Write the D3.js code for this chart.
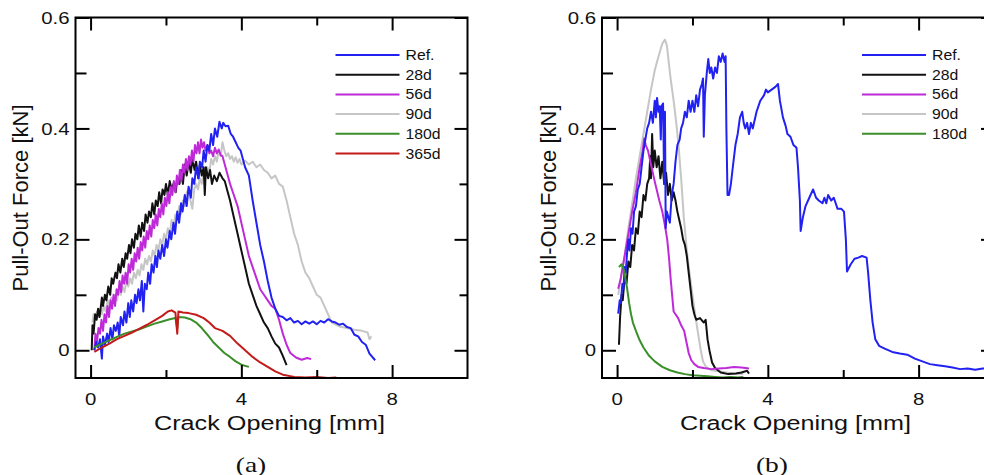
<!DOCTYPE html>
<html><head><meta charset="utf-8">
<script src="https://cdn.jsdelivr.net/npm/d3@7"></script>
<style>body{margin:0;background:#fff}svg{display:block}</style>
</head><body>
<svg id="c" width="984" height="475"></svg>
<script>
// ---------- DATA ----------
const seriesNamesA = ["Ref.","28d","56d","90d","180d","365d"];
const seriesNamesB = ["Ref.","28d","56d","90d","180d"];
const seriesColors = {"Ref.":"#2121f2","28d":"#111111","56d":"#bf2ad8","90d":"#c6c6c6","180d":"#3b8f2b","365d":"#c41a1a"};
const xMajorTicks = [0,4,8];
const xMinorTicks = [2,6];
const yMajorTicks = [0,0.2,0.4,0.6];
const yMinorTicks = [0.1,0.3,0.5];
const yTickLabels = ["0","0.2","0.4","0.6"];
const xTickLabels = ["0","4","8"];
const xTitle = "Crack Opening [mm]";
const yTitle = "Pull-Out Force [kN]";
const panelLabels = ["(a)","(b)"];

// Panel (a)
const refA = [[0.1,0],[0.15,0.015],[0.2,0.005],[0.25,0.02],[0.3,-0.015],[0.33,0.025],[0.38,0.01],[0.44,0.03],[0.48,0.015],[0.53,0.04],[0.58,0.02],[0.62,0.045],[0.67,0.035],[0.72,0.05],[0.76,0.025],[0.8,0.06],[0.86,0.045],[0.9,0.07],[0.95,0.05],[1.0,0.085],[1.04,0.06],[1.08,0.09],[1.13,0.07],[1.18,0.1],[1.22,0.085],[1.27,0.11],[1.31,0.09],[1.36,0.125],[1.4,0.07],[1.44,0.12],[1.49,0.11],[1.53,0.14],[1.58,0.12],[1.62,0.155],[1.67,0.14],[1.72,0.17],[1.76,0.15],[1.8,0.18],[1.85,0.165],[1.9,0.19],[1.95,0.17],[2.0,0.2],[2.04,0.185],[2.1,0.215],[2.14,0.2],[2.2,0.23],[2.24,0.21],[2.3,0.25],[2.35,0.23],[2.4,0.265],[2.44,0.25],[2.5,0.28],[2.55,0.26],[2.6,0.295],[2.66,0.275],[2.7,0.31],[2.75,0.3],[2.8,0.33],[2.86,0.31],[2.9,0.34],[2.96,0.33],[3.0,0.36],[3.05,0.34],[3.1,0.37],[3.15,0.36],[3.2,0.39],[3.25,0.37],[3.3,0.4],[3.36,0.385],[3.42,0.412],[3.48,0.4],[3.52,0.41],[3.58,0.404],[3.65,0.405],[3.72,0.39],[3.78,0.385],[3.85,0.375],[3.92,0.365],[3.98,0.36],[4.04,0.345],[4.1,0.33],[4.2,0.315],[4.3,0.27],[4.4,0.23],[4.5,0.19],[4.6,0.16],[4.7,0.125],[4.8,0.095],[4.9,0.075],[5.0,0.062],[5.1,0.06],[5.2,0.054],[5.3,0.058],[5.4,0.05],[5.5,0.053],[5.6,0.047],[5.7,0.052],[5.8,0.048],[5.9,0.052],[6.0,0.047],[6.1,0.053],[6.2,0.05],[6.3,0.056],[6.4,0.052],[6.5,0.05],[6.6,0.046],[6.7,0.048],[6.8,0.042],[6.9,0.04],[7.0,0.028],[7.1,0.025],[7.2,0.015],[7.3,0.01],[7.4,-0.006],[7.55,-0.018]];
const d28A = [[0.03,0.0],[0.05,0.045],[0.08,0.03],[0.12,0.065],[0.16,0.055],[0.2,0.075],[0.24,0.06],[0.3,0.095],[0.33,0.08],[0.38,0.1],[0.42,0.09],[0.47,0.115],[0.52,0.1],[0.56,0.13],[0.6,0.12],[0.66,0.14],[0.7,0.13],[0.74,0.155],[0.79,0.14],[0.84,0.165],[0.88,0.15],[0.93,0.175],[0.97,0.165],[1.02,0.19],[1.06,0.175],[1.1,0.2],[1.15,0.185],[1.19,0.21],[1.24,0.2],[1.28,0.225],[1.33,0.205],[1.37,0.23],[1.42,0.215],[1.46,0.245],[1.51,0.23],[1.55,0.25],[1.6,0.24],[1.64,0.265],[1.69,0.245],[1.73,0.27],[1.78,0.26],[1.82,0.285],[1.87,0.265],[1.91,0.29],[1.96,0.28],[2.0,0.3],[2.05,0.28],[2.1,0.305],[2.15,0.29],[2.2,0.3],[2.26,0.285],[2.3,0.31],[2.36,0.3],[2.4,0.325],[2.45,0.3],[2.5,0.335],[2.55,0.315],[2.6,0.34],[2.66,0.32],[2.7,0.345],[2.76,0.325],[2.8,0.34],[2.86,0.31],[2.9,0.335],[2.95,0.315],[3.0,0.33],[3.03,0.28],[3.06,0.33],[3.12,0.31],[3.17,0.325],[3.22,0.3],[3.28,0.315],[3.35,0.305],[3.42,0.32],[3.5,0.31],[3.56,0.305],[3.62,0.29],[3.7,0.27],[3.8,0.24],[3.9,0.21],[4.0,0.18],[4.1,0.15],[4.2,0.12],[4.3,0.1],[4.4,0.08],[4.5,0.065],[4.6,0.05],[4.7,0.04],[4.8,0.025],[4.9,0.012],[5.0,0.005],[5.1,-0.01],[5.2,-0.027]];
const d56A = [[0.1,0.0],[0.13,0.03],[0.17,0.015],[0.21,0.04],[0.25,0.03],[0.29,0.055],[0.33,0.035],[0.37,0.065],[0.41,0.05],[0.45,0.08],[0.49,0.06],[0.53,0.09],[0.57,0.075],[0.61,0.1],[0.65,0.08],[0.69,0.11],[0.73,0.1],[0.77,0.125],[0.81,0.105],[0.85,0.135],[0.89,0.12],[0.93,0.14],[0.97,0.12],[1.01,0.155],[1.05,0.14],[1.09,0.165],[1.13,0.145],[1.17,0.175],[1.21,0.16],[1.25,0.185],[1.29,0.165],[1.33,0.195],[1.37,0.18],[1.41,0.205],[1.45,0.185],[1.49,0.215],[1.53,0.2],[1.57,0.225],[1.61,0.205],[1.65,0.235],[1.69,0.22],[1.73,0.245],[1.77,0.225],[1.81,0.255],[1.85,0.24],[1.89,0.265],[1.93,0.245],[1.97,0.275],[2.01,0.26],[2.05,0.285],[2.09,0.265],[2.13,0.295],[2.17,0.28],[2.21,0.305],[2.25,0.285],[2.29,0.315],[2.33,0.3],[2.37,0.325],[2.41,0.305],[2.45,0.335],[2.49,0.32],[2.53,0.345],[2.57,0.325],[2.61,0.35],[2.65,0.335],[2.69,0.36],[2.73,0.34],[2.77,0.37],[2.81,0.355],[2.85,0.375],[2.89,0.355],[2.93,0.38],[2.97,0.365],[3.01,0.375],[3.05,0.36],[3.1,0.37],[3.15,0.355],[3.2,0.36],[3.25,0.35],[3.3,0.365],[3.35,0.355],[3.4,0.362],[3.45,0.352],[3.5,0.35],[3.56,0.335],[3.62,0.32],[3.7,0.3],[3.8,0.28],[3.9,0.26],[4.0,0.23],[4.1,0.2],[4.2,0.17],[4.3,0.15],[4.4,0.13],[4.5,0.11],[4.6,0.1],[4.7,0.09],[4.8,0.08],[4.9,0.075],[5.0,0.055],[5.1,0.03],[5.2,0.01],[5.3,-0.005],[5.45,-0.013],[5.6,-0.017],[5.75,-0.014],[5.85,-0.016]];
const d90A = [[0.05,0.05],[0.08,0.065],[0.12,0.055],[0.17,0.07],[0.21,0.06],[0.26,0.075],[0.3,0.065],[0.35,0.08],[0.4,0.07],[0.45,0.09],[0.5,0.08],[0.55,0.095],[0.6,0.085],[0.65,0.1],[0.7,0.09],[0.75,0.11],[0.8,0.1],[0.85,0.115],[0.9,0.105],[0.95,0.125],[1.0,0.115],[1.05,0.13],[1.1,0.12],[1.15,0.14],[1.2,0.13],[1.25,0.145],[1.3,0.135],[1.35,0.155],[1.4,0.145],[1.45,0.165],[1.5,0.155],[1.55,0.17],[1.6,0.16],[1.65,0.18],[1.7,0.17],[1.75,0.19],[1.8,0.18],[1.85,0.2],[1.9,0.19],[1.95,0.21],[2.0,0.2],[2.05,0.22],[2.1,0.21],[2.15,0.235],[2.2,0.22],[2.25,0.245],[2.3,0.235],[2.35,0.26],[2.4,0.245],[2.45,0.27],[2.5,0.26],[2.55,0.285],[2.6,0.29],[2.65,0.27],[2.7,0.255],[2.75,0.29],[2.8,0.3],[2.85,0.29],[2.9,0.31],[2.95,0.3],[3.0,0.32],[3.05,0.31],[3.1,0.33],[3.15,0.32],[3.2,0.345],[3.25,0.335],[3.3,0.35],[3.35,0.34],[3.4,0.36],[3.45,0.35],[3.5,0.375],[3.55,0.36],[3.6,0.35],[3.65,0.355],[3.7,0.345],[3.75,0.35],[3.8,0.34],[3.85,0.348],[3.9,0.338],[3.95,0.345],[4.0,0.335],[4.1,0.342],[4.2,0.335],[4.3,0.34],[4.4,0.33],[4.5,0.335],[4.6,0.325],[4.7,0.32],[4.8,0.31],[4.9,0.315],[5.0,0.3],[5.1,0.295],[5.2,0.27],[5.3,0.24],[5.4,0.21],[5.5,0.19],[5.6,0.16],[5.7,0.14],[5.8,0.13],[5.9,0.115],[6.0,0.1],[6.1,0.095],[6.2,0.08],[6.3,0.065],[6.4,0.05],[6.6,0.043],[6.8,0.04],[7.0,0.037],[7.2,0.035],[7.35,0.032],[7.4,0.02],[7.45,0.025]];
const d180A = [[0.1,0.005],[0.3,0.012],[0.5,0.018],[0.7,0.024],[0.9,0.03],[1.1,0.034],[1.3,0.038],[1.5,0.043],[1.7,0.048],[1.9,0.052],[2.1,0.056],[2.25,0.058],[2.3,0.04],[2.33,0.06],[2.5,0.059],[2.65,0.056],[2.8,0.05],[2.95,0.04],[3.1,0.028],[3.25,0.015],[3.4,0.005],[3.55,-0.005],[3.7,-0.012],[3.85,-0.02],[4.0,-0.026],[4.2,-0.03]];
const d365A = [[0.1,-0.003],[0.3,0.005],[0.5,0.012],[0.7,0.02],[0.9,0.026],[1.1,0.032],[1.3,0.039],[1.5,0.046],[1.7,0.054],[1.9,0.062],[2.05,0.07],[2.15,0.072],[2.25,0.068],[2.3,0.03],[2.33,0.07],[2.45,0.068],[2.6,0.067],[2.8,0.064],[3.0,0.058],[3.15,0.05],[3.3,0.04],[3.5,0.035],[3.7,0.026],[3.9,0.012],[4.1,0.0],[4.3,-0.012],[4.5,-0.022],[4.7,-0.03],[4.9,-0.038],[5.1,-0.044],[5.4,-0.048],[5.7,-0.049],[6.0,-0.048],[6.3,-0.05],[6.52,-0.049]];

// Panel (b)
const refB = [[0.03,0.066],[0.07,0.09],[0.1,0.085],[0.14,0.12],[0.17,0.11],[0.2,0.15],[0.23,0.14],[0.27,0.18],[0.3,0.2],[0.33,0.18],[0.37,0.22],[0.41,0.21],[0.45,0.25],[0.5,0.26],[0.55,0.29],[0.6,0.3],[0.65,0.33],[0.7,0.36],[0.75,0.38],[0.8,0.4],[0.85,0.41],[0.9,0.43],[0.95,0.41],[1.0,0.45],[1.03,0.42],[1.06,0.455],[1.1,0.43],[1.13,0.44],[1.16,0.38],[1.18,0.44],[1.22,0.445],[1.25,0.3],[1.27,0.43],[1.29,0.22],[1.32,0.25],[1.36,0.24],[1.4,0.23],[1.45,0.28],[1.5,0.3],[1.55,0.34],[1.6,0.37],[1.66,0.38],[1.7,0.4],[1.75,0.41],[1.8,0.43],[1.85,0.42],[1.9,0.45],[1.95,0.43],[2.0,0.45],[2.05,0.43],[2.1,0.46],[2.15,0.44],[2.2,0.47],[2.25,0.48],[2.28,0.49],[2.3,0.385],[2.33,0.46],[2.38,0.5],[2.42,0.525],[2.46,0.5],[2.5,0.51],[2.55,0.49],[2.6,0.51],[2.65,0.5],[2.7,0.53],[2.75,0.52],[2.8,0.535],[2.85,0.52],[2.88,0.53],[2.9,0.4],[2.93,0.28],[2.97,0.28],[3.02,0.3],[3.07,0.33],[3.14,0.37],[3.2,0.39],[3.26,0.42],[3.32,0.43],[3.36,0.41],[3.4,0.4],[3.45,0.41],[3.5,0.39],[3.55,0.41],[3.6,0.4],[3.7,0.43],[3.8,0.45],[3.9,0.46],[3.95,0.47],[4.0,0.465],[4.1,0.47],[4.2,0.475],[4.27,0.48],[4.32,0.45],[4.4,0.42],[4.47,0.405],[4.52,0.39],[4.6,0.385],[4.68,0.37],[4.76,0.365],[4.8,0.33],[4.85,0.27],[4.87,0.215],[4.93,0.24],[5.0,0.26],[5.1,0.275],[5.2,0.29],[5.28,0.275],[5.35,0.27],[5.45,0.265],[5.5,0.275],[5.55,0.265],[5.6,0.28],[5.68,0.27],[5.75,0.275],[5.85,0.255],[5.95,0.255],[6.02,0.25],[6.07,0.2],[6.1,0.142],[6.2,0.155],[6.3,0.165],[6.4,0.167],[6.5,0.17],[6.62,0.167],[6.66,0.14],[6.72,0.09],[6.78,0.05],[6.85,0.02],[6.95,0.008],[7.1,0.003],[7.3,-0.003],[7.5,-0.006],[7.7,-0.008],[7.9,-0.015],[8.1,-0.02],[8.3,-0.025],[8.5,-0.027],[8.7,-0.029],[8.9,-0.031],[9.1,-0.034],[9.3,-0.033],[9.5,-0.035],[9.7,-0.033],[9.9,-0.033]];
const d28B = [[0.05,0.01],[0.08,0.06],[0.12,0.1],[0.15,0.09],[0.2,0.13],[0.25,0.12],[0.3,0.16],[0.35,0.15],[0.4,0.19],[0.45,0.18],[0.5,0.22],[0.55,0.21],[0.6,0.25],[0.65,0.24],[0.7,0.28],[0.75,0.27],[0.8,0.3],[0.85,0.31],[0.88,0.35],[0.9,0.31],[0.93,0.39],[0.96,0.33],[1.0,0.36],[1.05,0.33],[1.1,0.35],[1.15,0.31],[1.2,0.34],[1.25,0.3],[1.3,0.32],[1.35,0.28],[1.4,0.3],[1.45,0.27],[1.5,0.285],[1.55,0.27],[1.6,0.25],[1.65,0.235],[1.7,0.22],[1.75,0.2],[1.8,0.19],[1.85,0.17],[1.9,0.14],[1.95,0.11],[2.0,0.08],[2.05,0.065],[2.1,0.055],[2.2,0.058],[2.3,0.05],[2.35,0.055],[2.4,0.02],[2.45,0.0],[2.52,-0.022],[2.6,-0.032],[2.75,-0.04],[2.95,-0.043],[3.15,-0.042],[3.3,-0.04],[3.45,-0.037],[3.5,-0.042]];
const d56B = [[0.03,0.111],[0.1,0.13],[0.2,0.17],[0.3,0.21],[0.4,0.25],[0.5,0.285],[0.6,0.33],[0.68,0.36],[0.72,0.382],[0.76,0.37],[0.82,0.36],[0.9,0.335],[0.98,0.31],[1.05,0.29],[1.12,0.27],[1.2,0.25],[1.27,0.225],[1.33,0.2],[1.38,0.165],[1.42,0.13],[1.46,0.1],[1.5,0.07],[1.55,0.065],[1.62,0.058],[1.7,0.045],[1.78,0.035],[1.84,0.015],[1.9,-0.005],[1.97,-0.018],[2.05,-0.025],[2.15,-0.03],[2.3,-0.032],[2.5,-0.034],[2.7,-0.033],[2.9,-0.032],[3.1,-0.03],[3.3,-0.031],[3.5,-0.033]];
const d90B = [[0.03,0.1],[0.12,0.14],[0.2,0.17],[0.3,0.22],[0.4,0.265],[0.5,0.31],[0.6,0.35],[0.7,0.39],[0.8,0.43],[0.9,0.47],[1.0,0.505],[1.1,0.53],[1.2,0.553],[1.27,0.56],[1.32,0.55],[1.37,0.52],[1.42,0.49],[1.5,0.45],[1.57,0.41],[1.63,0.37],[1.7,0.31],[1.77,0.24],[1.85,0.18],[1.92,0.14],[2.0,0.1],[2.08,0.06],[2.15,0.03],[2.22,0.0],[2.28,-0.02],[2.36,-0.03],[2.5,-0.036],[2.7,-0.038],[2.9,-0.04],[3.1,-0.042],[3.35,-0.043]];
const d180B = [[0.05,0.15],[0.12,0.155],[0.18,0.145],[0.22,0.13],[0.27,0.11],[0.32,0.085],[0.37,0.065],[0.42,0.05],[0.5,0.035],[0.6,0.018],[0.7,0.005],[0.85,-0.01],[1.0,-0.02],[1.2,-0.03],[1.4,-0.036],[1.6,-0.04],[1.8,-0.043],[2.0,-0.045],[2.2,-0.046],[2.4,-0.047],[2.6,-0.048],[2.8,-0.049],[3.0,-0.048],[3.2,-0.049],[3.35,-0.048]];

const dataA = {"Ref.":refA,"28d":d28A,"56d":d56A,"90d":d90A,"180d":d180A,"365d":d365A};
const dataB = {"Ref.":refB,"28d":d28B,"56d":d56B,"90d":d90B,"180d":d180B};
const drawOrder = ["90d","28d","56d","Ref.","180d","365d"];

// ---------- DRAW ----------
const svg = d3.select("#c");
const FONT = "'Liberation Sans', Arial, sans-serif";
const plotTop = 17.5, plotBottom = 378;

function panel(idx, left, right, data, names, titleX, labelX) {
  const x = d3.scaleLinear().domain([-0.4, 10]).range([left, right]);
  const y = d3.scaleLinear().domain([-0.05, 0.6]).range([plotBottom, plotTop]);
  const g = svg.append("g");
  const clipId = "clip" + idx;
  svg.append("clipPath").attr("id", clipId).append("rect")
    .attr("x", left).attr("y", plotTop).attr("width", right - left).attr("height", plotBottom - plotTop);

  const lines = g.append("g").attr("clip-path", `url(#${clipId})`);
  const lineGen = d3.line().x(d => x(d[0])).y(d => y(d[1]));
  drawOrder.filter(n => data[n]).forEach(n => {
    lines.append("path").attr("d", lineGen(data[n]))
      .attr("fill", "none").attr("stroke", seriesColors[n])
      .attr("stroke-width", 2).attr("stroke-linejoin", "round");
  });

  const mk = (axisFn, scale, ticks, size, tr) => {
    const a = axisFn(scale).tickValues(ticks).tickSize(size).tickFormat("");
    const ag = g.append("g").attr("transform", tr).call(a);
    ag.select(".domain").remove();
    ag.selectAll("line").attr("stroke", "#000").attr("stroke-width", 2);
  };
  mk(d3.axisBottom, x, xMajorTicks, -13, `translate(0,${plotBottom})`);
  mk(d3.axisBottom, x, xMinorTicks, -8, `translate(0,${plotBottom})`);
  mk(d3.axisTop, x, xMajorTicks, -13, `translate(0,${plotTop})`);
  mk(d3.axisTop, x, xMinorTicks, -8, `translate(0,${plotTop})`);
  mk(d3.axisLeft, y, yMajorTicks, -14, `translate(${left},0)`);
  mk(d3.axisLeft, y, yMinorTicks, -11, `translate(${left},0)`);
  mk(d3.axisRight, y, yMajorTicks, -13, `translate(${right},0)`);
  mk(d3.axisRight, y, yMinorTicks, -8, `translate(${right},0)`);

  g.append("rect").attr("x", left).attr("y", plotTop).attr("width", right - left)
    .attr("height", plotBottom - plotTop).attr("fill", "none").attr("stroke", "#000").attr("stroke-width", 2);

  yMajorTicks.forEach((v, i) => {
    g.append("text").attr("transform", `translate(${left - 6},${y(v)}) scale(1.2,1)`)
      .attr("text-anchor", "end").attr("dy", "0.36em")
      .attr("font-family", FONT).attr("font-size", 17).attr("fill", "#111").text(yTickLabels[i]);
  });
  xMajorTicks.forEach((v, i) => {
    g.append("text").attr("transform", `translate(${x(v)},405) scale(1.2,1)`)
      .attr("text-anchor", "middle")
      .attr("font-family", FONT).attr("font-size", 17).attr("fill", "#111").text(xTickLabels[i]);
  });

  g.append("text").attr("transform", `translate(${(left + Math.min(right, 993)) / 2 - 2},430) scale(1.2,1)`)
    .attr("text-anchor", "middle").attr("font-family", FONT).attr("font-size", 21)
    .attr("fill", "#111").text(xTitle);
  g.append("text").attr("transform", `translate(${titleX},198) rotate(-90)`)
    .attr("text-anchor", "middle").attr("dy", "0.35em").attr("font-family", FONT).attr("font-size", 22)
    .attr("fill", "#111").text(yTitle);
  g.append("text").attr("transform", `translate(${labelX},472) scale(1.25,1)`)
    .attr("text-anchor", "middle").attr("font-family", "'Liberation Serif', 'Times New Roman', serif")
    .attr("font-size", 22).attr("fill", "#111").text(panelLabels[idx]);

  const lg = g.append("g");
  names.forEach((n, i) => {
    const ly = plotTop + 37.5 + i * 19.7;
    lg.append("line").attr("x1", left + 260).attr("x2", left + 324).attr("y1", ly).attr("y2", ly)
      .attr("stroke", seriesColors[n]).attr("stroke-width", 2);
    lg.append("text").attr("transform", `translate(${left + 330},${ly}) scale(1.13,1)`)
      .attr("dy", "0.36em").attr("font-family", FONT).attr("font-size", 14)
      .attr("fill", "#111").text(n);
  });
}

panel(0, 75.5, 467.5, dataA, seriesNamesA, 20, 251);
panel(1, 602, 994, dataB, seriesNamesB, 548, 772);
</script>
</body></html>
